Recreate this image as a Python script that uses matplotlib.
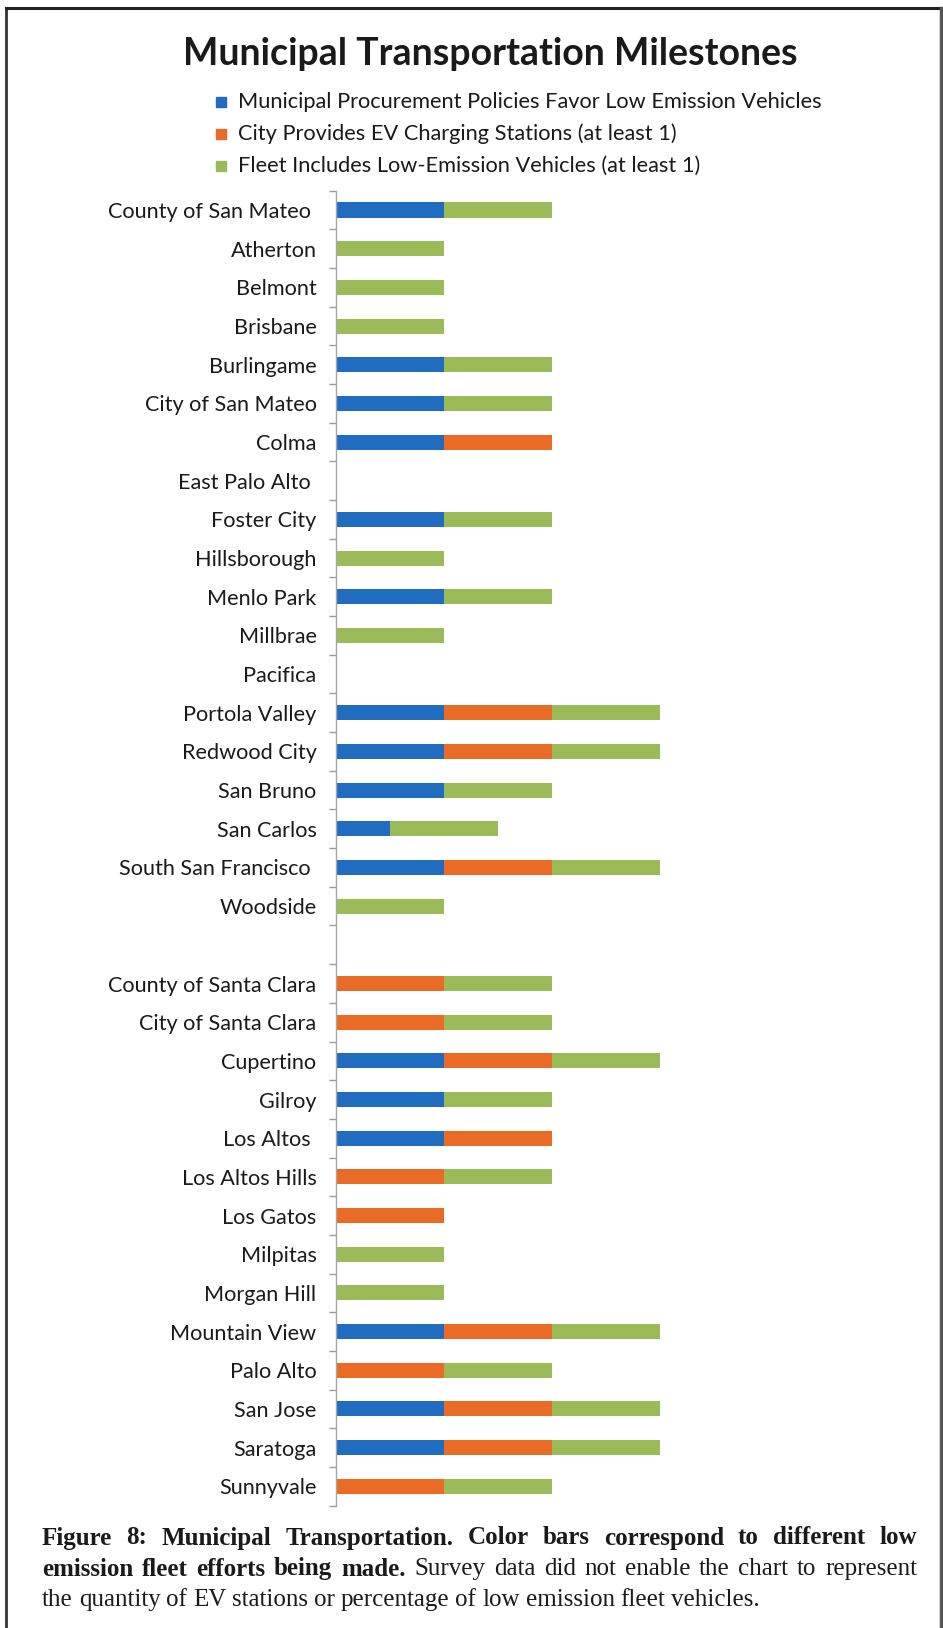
import numpy as np
import matplotlib.pyplot as plt
from matplotlib.lines import Line2D
from matplotlib.patches import Rectangle

W, H = 943, 1628

cities = [
    "County of San Mateo ", "Atherton", "Belmont", "Brisbane", "Burlingame",
    "City of San Mateo", "Colma", "East Palo Alto ", "Foster City",
    "Hillsborough", "Menlo Park", "Millbrae", "Pacifica", "Portola Valley",
    "Redwood City", "San Bruno", "San Carlos", "South San Francisco ",
    "Woodside", "",
    "County of Santa Clara", "City of Santa Clara", "Cupertino", "Gilroy",
    "Los Altos ", "Los Altos Hills", "Los Gatos", "Milpitas", "Morgan Hill",
    "Mountain View", "Palo Alto", "San Jose", "Saratoga", "Sunnyvale",
]
procurement = [1, 0, 0, 0, 1, 1, 1, 0, 1, 0, 1, 0, 0, 1, 1, 1, 0.5, 1, 0, 0,
               0, 0, 1, 1, 1, 0, 0, 0, 0, 1, 0, 1, 1, 0]
charging = [0, 0, 0, 0, 0, 0, 1, 0, 0, 0, 0, 0, 0, 1, 1, 0, 0, 1, 0, 0,
            1, 1, 1, 0, 1, 1, 1, 0, 0, 1, 1, 1, 1, 1]
fleet = [1, 1, 1, 1, 1, 1, 0, 0, 1, 1, 1, 1, 0, 1, 1, 1, 1, 1, 1, 0,
         1, 1, 1, 1, 0, 1, 0, 1, 1, 1, 1, 1, 1, 1]

series = [
    "Municipal Procurement Policies Favor Low Emission Vehicles",
    "City Provides EV Charging Stations (at least 1)",
    "Fleet Includes Low-Emission Vehicles (at least 1)",
]
colors = ["#1f6cc0", "#ea6b26", "#9bbb59"]

caption = [
    ([("Figure 8: Municipal Transportation. Color bars correspond to different low", "bold")], True),
    ([("emission fleet efforts being made.", "bold"),
      ("Survey data did not enable the chart to represent", "normal")], True),
    ([("the quantity of EV stations or percentage of low emission fleet vehicles.", "normal")], False),
]

plt.rcParams["font.family"] = ["Lato", "DejaVu Sans"]


def fx(x):
    return x / W


def fy(y):
    return 1 - y / H


fig = plt.figure(figsize=(W / 100, H / 100), dpi=100)

# plot area in pixel terms
left, right, top, bottom = 336, 660, 190.7, 1505.6
ax = fig.add_axes([fx(left), fy(bottom), fx(right - left), (bottom - top) / H])

y = np.arange(len(cities))
p = np.array(procurement)
c = np.array(charging)
f = np.array(fleet)
ax.barh(y, p, height=0.39, color=colors[0])
ax.barh(y, c, left=p, height=0.39, color=colors[1])
ax.barh(y, f, left=p + c, height=0.39, color=colors[2])

ax.set_xlim(0, 3)
ax.set_ylim(len(cities) - 0.5, -0.5)
ax.set_xticks([])
ax.set_yticks(y)
ax.set_yticklabels(cities, fontsize=15.6, color="#1a1a1a")
ax.tick_params(axis="y", which="major", length=0, pad=14)
ax.set_yticks(np.arange(-0.5, len(cities)), minor=True)
ax.tick_params(axis="y", which="minor", length=5, width=1, color="#9a9a9a")
for s in ["top", "right", "bottom"]:
    ax.spines[s].set_visible(False)
ax.spines["left"].set_color("#a6a6a6")
ax.spines["left"].set_linewidth(1)

# title and legend
fig.text(fx(490), fy(54), "Municipal Transportation Milestones", ha="center",
         va="center", fontsize=27, fontweight="bold", color="#1a1a1a")
for i, (name, col) in enumerate(zip(series, colors)):
    yy = 102 + 32 * i
    fig.patches.append(Rectangle((fx(216), fy(yy + 5)), fx(10), 10 / H,
                                 transform=fig.transFigure, color=col))
    fig.text(fx(238), fy(yy), name, ha="left", va="center", fontsize=15.7,
             color="#1a1a1a")

# frame around the figure (open at the bottom)
for xs, ys, col, lw in [((6, 6), (8, H), "#333333", 2),
                        ((6, 941), (8, 8), "#222222", 2.2),
                        ((941, 941), (8, H), "#555555", 2.5)]:
    fig.lines.append(Line2D([fx(v) for v in xs], [fy(v) for v in ys],
                            transform=fig.transFigure, color=col, lw=lw))

# justified caption, word by word
renderer = fig.canvas.get_renderer()
cap_left, cap_right = 42, 917
for li, (parts, justify) in enumerate(caption):
    yy = 1538 + 31 * li
    words = []
    for text, weight in parts:
        for w in text.split():
            t = fig.text(0, fy(yy), w, ha="left", va="center", fontsize=18,
                         fontweight=weight, family="Liberation Serif",
                         color="#1a1a1a")
            words.append(t)
    widths = [t.get_window_extent(renderer).width for t in words]
    if justify:
        gap = (cap_right - cap_left - sum(widths)) / (len(words) - 1)
    else:
        gap = 5.9
    x = cap_left
    for t, wd in zip(words, widths):
        t.set_x(fx(x))
        x += wd + gap

fig.savefig("out.png", dpi=100)
